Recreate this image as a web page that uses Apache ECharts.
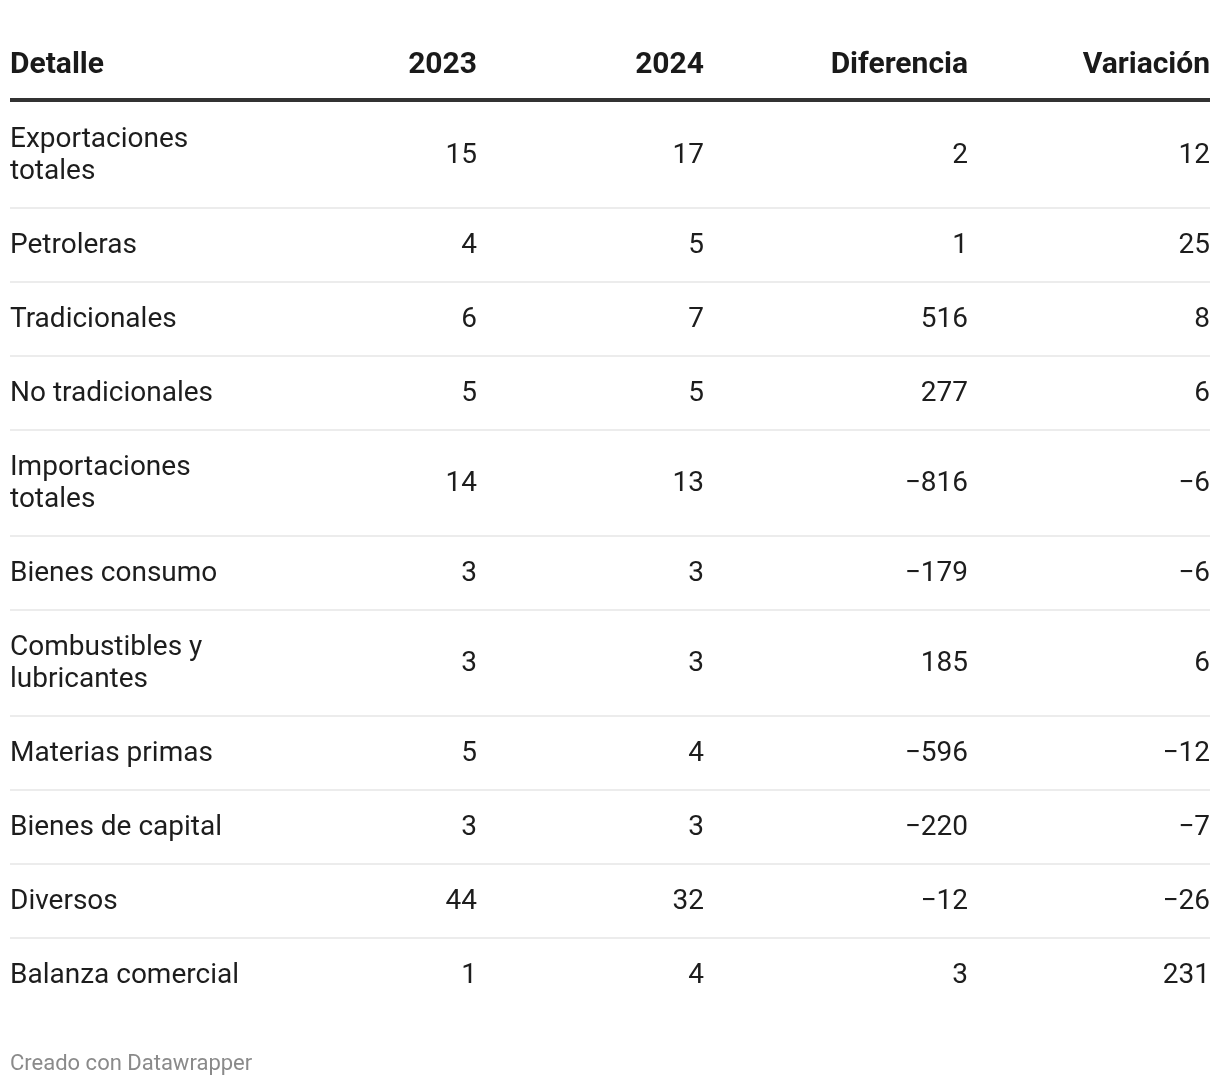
<!DOCTYPE html>
<html>
<head>
<meta charset="utf-8">
<script src="https://cdn.jsdelivr.net/npm/echarts@6/dist/echarts.min.js"></script>
<style>
html,body{margin:0;padding:0;background:#fff;}
#chart{width:1220px;height:1086px;}
</style>
</head>
<body>
<div id="chart"></div>
<script>
const headers = ["Detalle", "2023", "2024", "Diferencia", "Variación"];
const categories = [
  "Exportaciones\ntotales", "Petroleras", "Tradicionales", "No tradicionales",
  "Importaciones\ntotales", "Bienes consumo", "Combustibles y\nlubricantes",
  "Materias primas", "Bienes de capital", "Diversos", "Balanza comercial"
];
const values2023 = [15, 4, 6, 5, 14, 3, 3, 5, 3, 44, 1];
const values2024 = [17, 5, 7, 5, 13, 3, 3, 4, 3, 32, 4];
const diferencia = [2, 1, 516, 277, -816, -179, 185, -596, -220, -12, 3];
const variacion = [12, 25, 8, 6, -6, -6, 6, -12, -7, -26, 231];
const footer = "Creado con Datawrapper";

const FONT = "Roboto, 'Noto Sans', sans-serif";
const xLeft = 10, xRight = 1210;
const colRight = [null, 477, 704, 968, 1210];
const fmt = v => (v < 0 ? "\u2212" + Math.abs(v) : String(v));

const els = [];
headers.forEach((h, i) => {
  els.push({
    type: 'text',
    x: i === 0 ? xLeft : colRight[i],
    y: 65,
    style: {
      text: h, fontFamily: FONT, fontWeight: 'bold', fontSize: 30,
      fill: '#1a1a1a', align: i === 0 ? 'left' : 'right', verticalAlign: 'middle'
    }
  });
});
els.push({ type: 'rect', shape: { x: xLeft, y: 98, width: xRight - xLeft, height: 4 }, style: { fill: '#333' } });

let yTop = 102;
categories.forEach((c, r) => {
  const lines = c.split("\n").length;
  const h = 74 + 32 * (lines - 1);
  const cy = yTop + h / 2 + 1;
  els.push({
    type: 'text', x: xLeft, y: cy,
    style: { text: c, fontFamily: FONT, fontSize: 28, lineHeight: 32, fill: '#1d1d1d', align: 'left', verticalAlign: 'middle' }
  });
  const row = [values2023[r], values2024[r], diferencia[r], variacion[r]];
  row.forEach((v, k) => {
    els.push({
      type: 'text', x: colRight[k + 1], y: cy,
      style: { text: fmt(v), fontFamily: FONT, fontSize: 28, fill: '#1d1d1d', align: 'right', verticalAlign: 'middle' }
    });
  });
  yTop += h;
  if (r < categories.length - 1) {
    els.push({ type: 'rect', shape: { x: xLeft, y: yTop - 1, width: xRight - xLeft, height: 2 }, style: { fill: '#ececec' } });
  }
});
els.push({
  type: 'text', x: xLeft, y: 1064,
  style: { text: footer, fontFamily: FONT, fontSize: 22, fill: '#8a8a8a', align: 'left', verticalAlign: 'middle' }
});

const chart = echarts.init(document.getElementById('chart'), null, { renderer: 'canvas' });
chart.setOption({ backgroundColor: '#fff', animation: false, graphic: { elements: els } });
</script>
</body>
</html>
